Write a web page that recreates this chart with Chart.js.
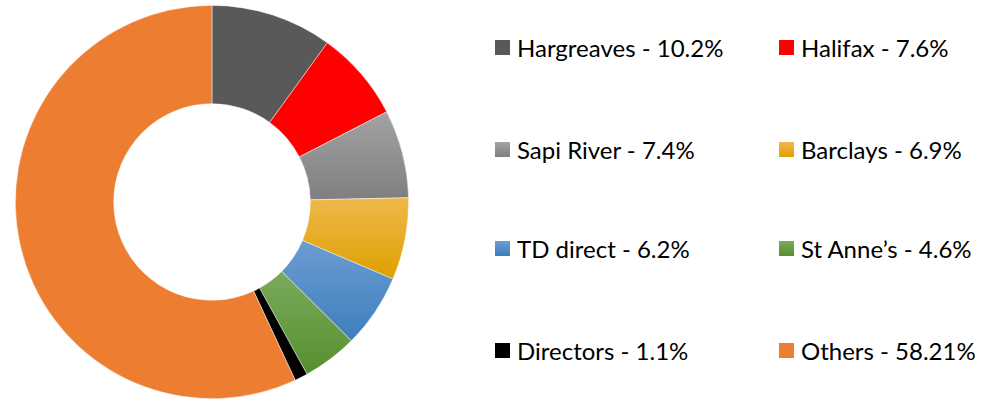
<!DOCTYPE html>
<html>
<head>
<meta charset="utf-8">
<script src="https://cdn.jsdelivr.net/npm/chart.js@4.4.1/dist/chart.umd.min.js"></script>
<style>
  html, body { margin: 0; padding: 0; background: #fff; }
  body { width: 1002px; height: 400px; position: relative; overflow: hidden; font-family: Lato, "Open Sans", sans-serif; }
  #chartBox { position: absolute; left: 15px; top: 5px; width: 394px; height: 394px; }
  #legend { position: absolute; left: 0; top: 0; }
  .item { position: absolute; display: flex; align-items: center; font-size: 24px; color: #000; white-space: nowrap; }
  .item .sw { width: 15px; height: 15px; margin-right: 7px; }
</style>
</head>
<body>
<div id="chartBox"><canvas id="myChart"></canvas></div>
<div id="legend"></div>
<script>
const labels = ["Hargreaves", "Halifax", "Sapi River", "Barclays", "TD direct", "St Anne\u2019s", "Directors", "Others"];
const shares = [10.2, 7.6, 7.4, 6.9, 6.2, 4.6, 1.1, 58.21];
const shareText = ["10.2%", "7.6%", "7.4%", "6.9%", "6.2%", "4.6%", "1.1%", "58.21%"];
// top colour / bottom colour of each slice (Excel-like soft gradient)
const topColors = ["#595959", "#ff0000", "#a3a3a3", "#efb84c", "#6c9dd2", "#7aab5c", "#000000", "#ed7d31"];
const bottomColors = ["#595959", "#ff0000", "#7f7f7f", "#dfa000", "#3d7ebd", "#568f2f", "#000000", "#ed7d31"];

// legend, two columns
const legend = document.getElementById("legend");
const colX = [495, 779];
const rowY = [47, 149, 248, 350];
labels.forEach(function (name, i) {
    const item = document.createElement("div");
    item.className = "item";
    item.style.left = colX[i % 2] + "px";
    item.style.top = (rowY[Math.floor(i / 2)] - 14) + "px";
    item.style.height = "28px";
    const sw = document.createElement("span");
    sw.className = "sw";
    sw.style.background = "linear-gradient(" + topColors[i] + ", " + bottomColors[i] + ")";
    item.appendChild(sw);
    item.appendChild(document.createTextNode(name + " - " + shareText[i]));
    legend.appendChild(item);
});

// give each arc a vertical gradient spanning its own height
const sliceGradient = {
    id: "sliceGradient",
    beforeDatasetsDraw: function (chart) {
        const ctx = chart.ctx;
        chart.getDatasetMeta(0).data.forEach(function (el, i) {
            if (topColors[i] === bottomColors[i]) return;
            const p = el.getProps(["x", "y", "startAngle", "endAngle", "innerRadius", "outerRadius"], true);
            let yMin = Infinity, yMax = -Infinity;
            for (let k = 0; k <= 20; k++) {
                const a = p.startAngle + (p.endAngle - p.startAngle) * k / 20;
                [p.innerRadius, p.outerRadius].forEach(function (r) {
                    const yy = p.y + Math.sin(a) * r;
                    yMin = Math.min(yMin, yy);
                    yMax = Math.max(yMax, yy);
                });
            }
            const g = ctx.createLinearGradient(0, yMin, 0, yMax);
            g.addColorStop(0, topColors[i]);
            g.addColorStop(1, bottomColors[i]);
            el.options.backgroundColor = g;
        });
    }
};

const ctx = document.getElementById("myChart").getContext("2d");
new Chart(ctx, {
    type: "doughnut",
    data: {
        labels: labels,
        datasets: [{
            data: shares,
            backgroundColor: topColors,
            borderColor: "rgba(255,255,255,0.6)",
            borderWidth: 0.75
        }]
    },
    options: {
        responsive: true,
        maintainAspectRatio: false,
        animation: false,
        cutout: "50%",
        layout: { padding: 0 },
        plugins: {
            legend: { display: false },
            tooltip: { enabled: false }
        }
    },
    plugins: [sliceGradient]
});
</script>
</body>
</html>
